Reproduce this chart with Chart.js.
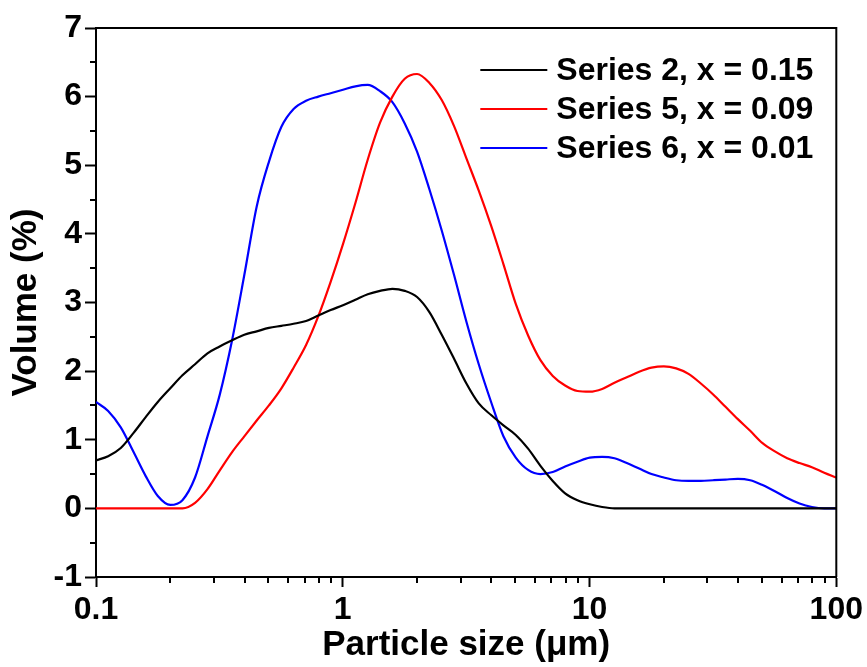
<!DOCTYPE html>
<html>
<head>
<meta charset="utf-8">
<script src="https://cdn.jsdelivr.net/npm/chart.js@4.4.1/dist/chart.umd.min.js"></script>
<style>
  html, body { margin: 0; padding: 0; background: #fff; }
  #wrap { width: 867px; height: 667px; }
</style>
</head>
<body>
<div id="wrap"><canvas id="psd"></canvas></div>
<script>
// particle size grid (um), 20 classes per decade
const sizes = [
  0.1, 0.112, 0.126, 0.142, 0.159, 0.178, 0.2, 0.224, 0.252, 0.283,
  0.317, 0.356, 0.399, 0.448, 0.502, 0.564, 0.632, 0.71, 0.796, 0.893,
  1.002, 1.125, 1.262, 1.416, 1.589, 1.783, 2.0, 2.244, 2.518, 2.825,
  3.17, 3.557, 3.991, 4.477, 5.024, 5.637, 6.325, 7.096, 7.962, 8.934,
  10.024, 11.247, 12.619, 14.159, 15.887, 17.825, 20.0, 22.44, 25.179, 28.251,
  31.698, 35.566, 39.905, 44.774, 50.238, 56.368, 63.246, 70.963, 79.621, 89.337,
  100.0
];

// volume fractions (%)
const series2 = [
  0.70, 0.76, 0.88, 1.10, 1.33, 1.55, 1.75, 1.94, 2.10, 2.26,
  2.36, 2.45, 2.53, 2.58, 2.63, 2.66, 2.69, 2.73, 2.81, 2.89,
  2.96, 3.04, 3.12, 3.17, 3.20, 3.17, 3.08, 2.86, 2.53, 2.18,
  1.82, 1.53, 1.36, 1.21, 1.07, 0.87, 0.62, 0.40, 0.22, 0.12,
  0.06, 0.02, 0, 0, 0, 0, 0, 0, 0, 0,
  0, 0, 0, 0, 0, 0, 0, 0, 0, 0,
  0
];
const series5 = [
  0, 0, 0, 0, 0, 0, 0, 0, 0.08, 0.28,
  0.55, 0.82, 1.05, 1.28, 1.50, 1.75, 2.05, 2.38, 2.80, 3.30,
  3.85, 4.45, 5.08, 5.62, 6.00, 6.26, 6.33, 6.20, 5.95, 5.57,
  5.10, 4.63, 4.12, 3.56, 2.98, 2.52, 2.16, 1.93, 1.79, 1.71,
  1.70, 1.74, 1.83, 1.91, 1.99, 2.05, 2.07, 2.04, 1.96, 1.82,
  1.66, 1.48, 1.30, 1.13, 0.95, 0.83, 0.73, 0.66, 0.60, 0.52,
  0.45
];
const series6 = [
  1.55, 1.42, 1.18, 0.82, 0.47, 0.18, 0.05, 0.12, 0.45, 1.05,
  1.65, 2.45, 3.40, 4.40, 5.05, 5.56, 5.82, 5.94, 6.00, 6.05,
  6.10, 6.15, 6.17, 6.08, 5.92, 5.61, 5.20, 4.65, 4.05, 3.40,
  2.72, 2.10, 1.55, 1.05, 0.74, 0.56, 0.50, 0.53, 0.61, 0.68,
  0.74, 0.75, 0.73, 0.66, 0.58, 0.50, 0.45, 0.41, 0.40, 0.40,
  0.41, 0.42, 0.43, 0.41, 0.34, 0.25, 0.15, 0.07, 0.02, 0,
  0
];

const seriesNames = ['Series 2, x = 0.15', 'Series 5, x = 0.09', 'Series 6, x = 0.01'];
const xMajorTicks = [0.1, 1, 10, 100];
const yRange = [-1, 7];

const FONT = 'Arial, "Liberation Sans", sans-serif';

function toPoints(vals) {
  return sizes.map((s, i) => ({ x: s, y: vals[i] }));
}

// minor ticks, closed frame and the line legend
const extras = {
  id: 'extras',
  afterDraw(chart) {
    const { ctx, chartArea: a, scales: { x, y } } = chart;
    ctx.save();
    ctx.strokeStyle = '#000';
    ctx.lineWidth = 2;

    ctx.beginPath();
    for (let d = 0.1; d < 100; d *= 10) {
      for (let k = 2; k <= 9; k++) {
        const px = Math.round(x.getPixelForValue(k * d));
        ctx.moveTo(px, a.bottom);
        ctx.lineTo(px, a.bottom + 6);
      }
    }
    for (let v = yRange[0] + 0.5; v < yRange[1]; v += 1) {
      const py = Math.round(y.getPixelForValue(v));
      ctx.moveTo(a.left, py);
      ctx.lineTo(a.left - 6, py);
    }
    ctx.stroke();

    ctx.beginPath();
    ctx.moveTo(a.left, a.top);
    ctx.lineTo(a.right, a.top);
    ctx.lineTo(a.right, a.bottom);
    ctx.stroke();

    // legend
    ctx.font = 'bold 32px ' + FONT;
    ctx.textBaseline = 'middle';
    ctx.textAlign = 'left';
    chart.data.datasets.forEach((ds, i) => {
      const ly = a.top + 42 + i * 39;
      const lx = a.right - 356;
      ctx.strokeStyle = ds.borderColor;
      ctx.lineWidth = 2;
      ctx.beginPath();
      ctx.moveTo(lx, ly);
      ctx.lineTo(lx + 67, ly);
      ctx.stroke();
      ctx.fillStyle = '#000';
      ctx.fillText(ds.label, lx + 76, ly + 1);
    });
    ctx.restore();
  }
};

new Chart(document.getElementById('psd'), {
  type: 'line',
  data: {
    datasets: [
      { label: seriesNames[0], data: toPoints(series2), borderColor: '#000000' },
      { label: seriesNames[1], data: toPoints(series5), borderColor: '#ff0000' },
      { label: seriesNames[2], data: toPoints(series6), borderColor: '#0000ff' }
    ]
  },
  options: {
    responsive: true,
    maintainAspectRatio: false,
    animation: false,
    layout: { padding: { left: 0, top: 28, right: 30, bottom: 0 } },
    elements: {
      point: { radius: 0 },
      line: { borderWidth: 2.2, cubicInterpolationMode: 'monotone', fill: false }
    },
    plugins: {
      legend: { display: false },
      tooltip: { enabled: false }
    },
    scales: {
      x: {
        type: 'logarithmic',
        min: xMajorTicks[0],
        max: xMajorTicks[xMajorTicks.length - 1],
        afterBuildTicks(scale) {
          scale.ticks = xMajorTicks.map(v => ({ value: v, major: true }));
        },
        afterFit(scale) { scale.height = 90; },
        border: { display: true, color: '#000', width: 2 },
        grid: { drawOnChartArea: false, drawTicks: true, tickLength: 10, tickColor: '#000', tickWidth: 2 },
        ticks: {
          color: '#000',
          padding: 4,
          maxRotation: 0,
          autoSkip: false,
          font: { family: FONT, size: 32, weight: 'bold' },
          callback: v => String(v)
        },
        title: {
          display: true,
          text: 'Particle size (μm)',
          color: '#000',
          padding: { top: 0, bottom: 1 },
          font: { family: FONT, size: 35, weight: 'bold' }
        }
      },
      y: {
        min: yRange[0],
        max: yRange[1],
        afterFit(scale) { scale.width = 96; },
        border: { display: true, color: '#000', width: 2 },
        grid: { drawOnChartArea: false, drawTicks: true, tickLength: 11, tickColor: '#000', tickWidth: 2 },
        ticks: {
          stepSize: 1,
          color: '#000',
          padding: 3,
          font: { family: FONT, size: 32, weight: 'bold' }
        },
        title: {
          display: true,
          text: 'Volume (%)',
          color: '#000',
          padding: { top: 5, bottom: 0 },
          font: { family: FONT, size: 35, weight: 'bold' }
        }
      }
    }
  },
  plugins: [extras]
});
</script>
</body>
</html>
